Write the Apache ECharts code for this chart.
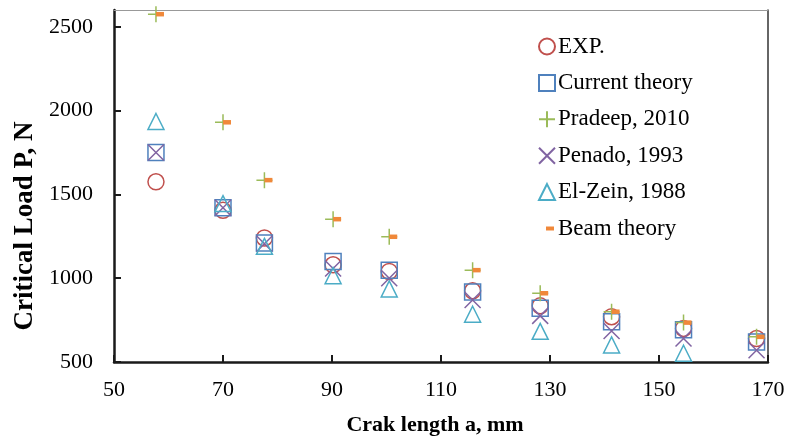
<!DOCTYPE html>
<html>
<head>
<meta charset="utf-8">
<script src="https://cdn.jsdelivr.net/npm/echarts@6/dist/echarts.min.js"></script>
<style>
html,body{margin:0;padding:0;background:#fff;}
#chart{width:797px;height:436px;}
</style>
</head>
<body>
<div id="chart"></div>
<script>
// Data
const crackLength = [57.7, 70, 77.6, 90.2, 100.5, 115.8, 128.2, 141.3, 154.5, 167.9];
const expLoad      = [1575, 1405, 1240, 1080, 1040, 925, 835, 770, 700, 640];
const currentLoad  = [1750, 1420, 1210, 1100, 1048, 918, 821, 740, 693, 620];
const pradeepLoad  = [2575, 1930, 1585, 1352, 1247, 1048, 910, 800, 735, 650];
const penadoLoad   = [1750, 1420, 1205, 1058, 1000, 870, 775, 685, 640, 570];
const elzeinLoad   = [1935, 1445, 1190, 1015, 936, 785, 683, 602, 552, null];
const beamLoad     = [2575, 1930, 1585, 1352, 1247, 1048, 910, 800, 735, 650];
const seriesNames  = ['EXP.', 'Current theory', 'Pradeep, 2010', 'Penado, 1993', 'El-Zein, 1988', 'Beam theory'];
const xTicks = [50, 70, 90, 110, 130, 150, 170];
const yTicks = [500, 1000, 1500, 2000, 2500];

function pairs(ys) {
  return crackLength.map((x, i) => [x, ys[i]]).filter(p => p[1] !== null);
}

const FONT = "'Liberation Serif', 'Times New Roman', serif";
const PLUS = 'path://M0,5L10,5M5,0L5,10';
const CROSS = 'path://M0,0L10,10M10,0L0,10';
const DASH_ICON = 'path://M0,0M16,16M7,6L15,6L15,10L7,10Z';

const chart = echarts.init(document.getElementById('chart'), null, {renderer: 'canvas'});

function hollow(name, symbol, color, ys) {
  return {
    name, type: 'scatter', symbol, symbolSize: 16, data: pairs(ys),
    itemStyle: {color: 'rgba(0,0,0,0)', borderColor: color, borderWidth: 1.5, opacity: 1},
    emphasis: {disabled: true}
  };
}

const option = {
  animation: false,
  backgroundColor: '#fff',
  grid: {left: 114, right: 29, top: 10, bottom: 74, containLabel: false, outerBoundsMode: 'none'},
  legend: {
    orient: 'vertical', left: 533, top: 30, itemGap: 13.4,
    itemWidth: 16, itemHeight: 16,
    textStyle: {fontFamily: FONT, fontSize: 23, color: '#000', padding: [0, 0, 0, -2]},
    data: [
      {name: seriesNames[0]}, {name: seriesNames[1]}, {name: seriesNames[2]},
      {name: seriesNames[3]}, {name: seriesNames[4]},
      {name: seriesNames[5], icon: DASH_ICON}
    ]
  },
  xAxis: [{
    type: 'value', min: 50, max: 170, interval: 10,
    name: 'Crak length a, mm', nameLocation: 'middle', nameGap: 52,
    nameTextStyle: {fontFamily: FONT, fontSize: 22, fontWeight: 'bold', color: '#000', padding: [0, 12, 0, 0]},
    axisLine: {show: true, onZero: false, lineStyle: {color: '#1a1a1a', width: 2.5}},
    axisTick: {show: true, inside: true, length: 7, customValues: xTicks, lineStyle: {color: '#1a1a1a', width: 2}},
    axisLabel: {customValues: xTicks, fontFamily: FONT, fontSize: 22, color: '#000', margin: 17, formatter: v => String(v)},
    splitLine: {show: false}
  }, {
    type: 'value', position: 'top', min: 50, max: 170,
    axisLine: {show: true, onZero: false, lineStyle: {color: '#999', width: 1}},
    axisTick: {show: false}, axisLabel: {show: false}, splitLine: {show: false}
  }],
  yAxis: [{
    type: 'value', min: 500, max: 2600, interval: 500,
    name: 'Critical Load P, N', nameLocation: 'middle', nameGap: 74, nameRotate: 90,
    nameTextStyle: {fontFamily: FONT, fontSize: 27, fontWeight: 'bold', color: '#000', padding: [0, 80, 0, 0]},
    axisLine: {show: true, onZero: false, lineStyle: {color: '#1a1a1a', width: 2.5}},
    axisTick: {show: true, inside: true, length: 7, customValues: yTicks, lineStyle: {color: '#1a1a1a', width: 2}},
    axisLabel: {customValues: yTicks, fontFamily: FONT, fontSize: 22, color: '#000', margin: 21, formatter: v => String(v)},
    splitLine: {show: false}
  }, {
    type: 'value', position: 'right', min: 500, max: 2600,
    axisLine: {show: true, onZero: false, lineStyle: {color: '#333', width: 1.5}},
    axisTick: {show: false}, axisLabel: {show: false}, splitLine: {show: false}
  }],
  series: [
    hollow(seriesNames[0], 'circle', '#C0504D', expLoad),
    hollow(seriesNames[1], 'rect', '#4F81BD', currentLoad),
    hollow(seriesNames[2], PLUS, '#9BBB59', pradeepLoad),
    hollow(seriesNames[3], CROSS, '#8064A2', penadoLoad),
    hollow(seriesNames[4], 'triangle', '#4BACC6', elzeinLoad),
    {
      name: seriesNames[5], type: 'scatter', symbol: 'rect', symbolSize: [8, 4.5], symbolOffset: [4, 0],
      data: pairs(beamLoad),
      itemStyle: {color: '#F0883A', opacity: 1},
      emphasis: {disabled: true}
    }
  ]
};
chart.setOption(option);
</script>
</body>
</html>
